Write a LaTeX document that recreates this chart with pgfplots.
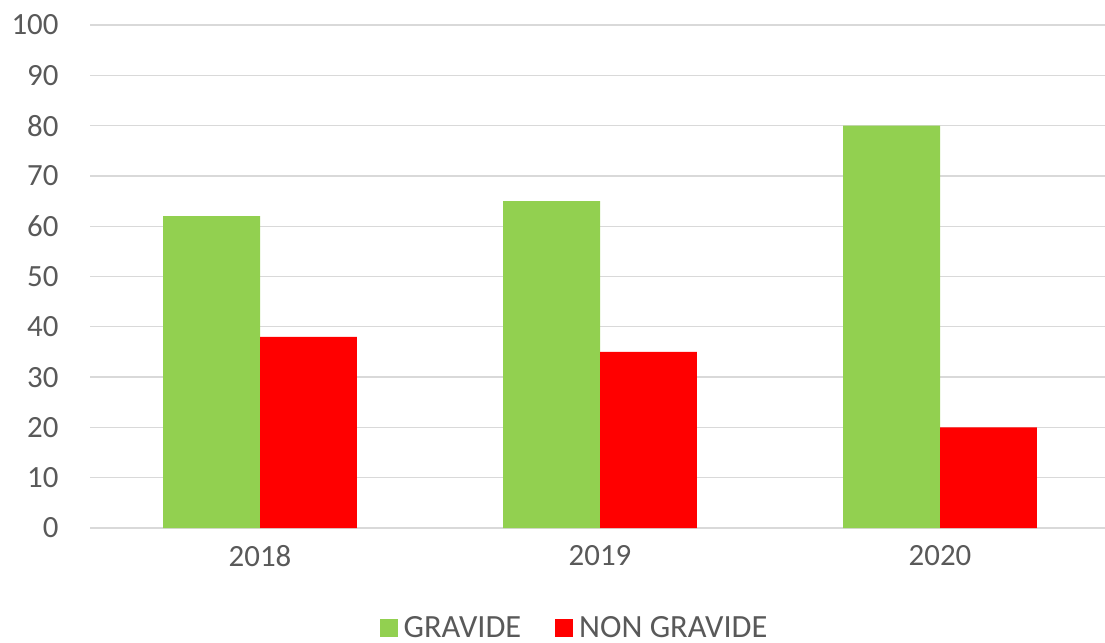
\documentclass[border=0pt]{standalone}
\usepackage{pgfplots}
\pgfplotsset{compat=1.18}
\usepackage{fontspec}
\setmainfont{Carlito}
\definecolor{gr}{HTML}{92D050}
\definecolor{rd}{HTML}{FF0000}
\definecolor{txt}{HTML}{595959}
\definecolor{grd}{HTML}{D9D9D9}
\begin{document}
\begin{tikzpicture}[x=1bp,y=1bp]
\begin{axis}[
  scale only axis,
  width=1020bp, height=503bp,
  ybar=0pt, bar width=0.285,
  xmin=-0.5, xmax=2.5,
  ymin=0, ymax=100,
  ytick={0,10,...,100},
  xtick=data,
  xticklabels={2018,2019,2020},
  ymajorgrids, grid style={grd, line width=1.3bp},
  axis x line*=bottom, axis y line*=left,
  x axis line style={grd, line width=1.3bp},
  y axis line style={draw=none},
  major tick length=0pt,
  tick label style={text=txt, font=\fontsize{31}{36}\selectfont},
  /pgf/number format/assume math mode=true,
  yticklabel style={anchor=east, xshift=-28bp},
  xticklabel style={yshift=-14bp},
  legend columns=2,
  legend style={draw=none, at={(0.475,-0.198)}, anchor=center,
    font=\fontsize{32.5}{36}\selectfont, text=txt,
    /tikz/every odd column/.append style={column sep=4bp},
    /tikz/every even column/.append style={column sep=32bp}},
  legend image code/.code={\fill[#1] (0bp,-9bp) rectangle (18bp,9bp);},
]
\addplot[fill=gr, draw=none] coordinates {(0,62) (1,65) (2,80)};
\addplot[fill=rd, draw=none] coordinates {(0,38) (1,35) (2,20)};
\legend{GRAVIDE, NON GRAVIDE}
\coordinate (sw) at (rel axis cs:0,0);
\coordinate (ne) at (rel axis cs:1,1);
\end{axis}
\pgfresetboundingbox
\path ([xshift=-90bp,yshift=-114bp]sw) rectangle ([xshift=-5bp,yshift=25bp]ne);
\end{tikzpicture}
\end{document}
